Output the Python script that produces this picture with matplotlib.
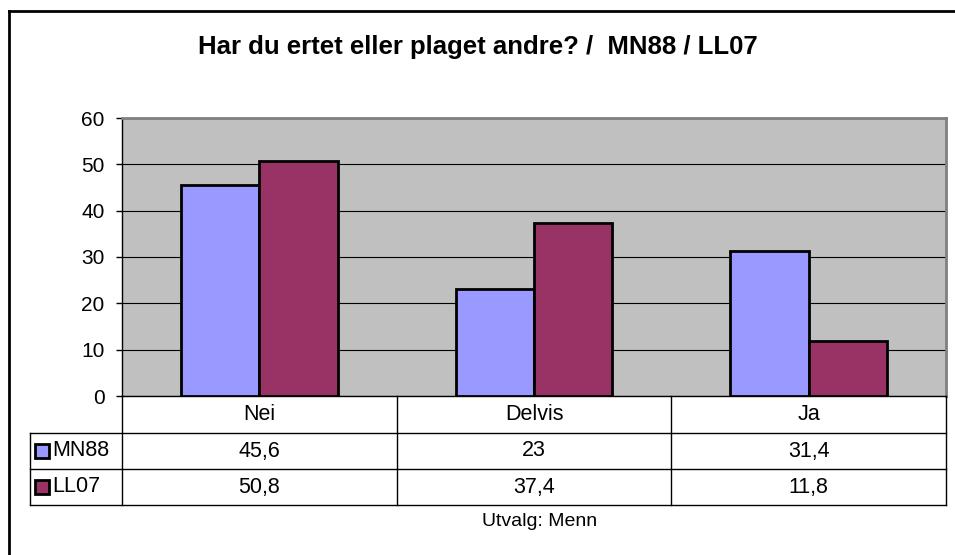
import matplotlib
matplotlib.use("Agg")
import matplotlib.pyplot as plt
from matplotlib.patches import Rectangle
from matplotlib.lines import Line2D

categories = ["Nei", "Delvis", "Ja"]
series_names = ["MN88", "LL07"]
mn88 = [45.6, 23, 31.4]
ll07 = [50.8, 37.4, 11.8]
mn88_labels = ["45,6", "23", "31,4"]
ll07_labels = ["50,8", "37,4", "11,8"]
yticks = [0, 10, 20, 30, 40, 50, 60]
colors = ["#9999FF", "#993366"]
title = "Har du ertet eller plaget andre? /  MN88 / LL07"
footer = "Utvalg: Menn"

plt.rcParams['font.family'] = ['Liberation Sans', 'DejaVu Sans']

W, H = 955, 555
fig = plt.figure(figsize=(W / 100, H / 100), dpi=100)

def fx(px):
    return px / W

def fy(py):
    return 1 - py / H

# outer border (only top and left visible)
fig.add_artist(Line2D([fx(8.5), fx(8.5)], [fy(10.5), fy(560)], color="black", lw=2, transform=fig.transFigure))
fig.add_artist(Line2D([fx(8.5), fx(960)], [fy(10.5), fy(10.5)], color="black", lw=2, transform=fig.transFigure))

L, R, T, B = 122, 946, 118, 396
ax = fig.add_axes([fx(L), fy(B), fx(R - L), (B - T) / H])
ax.set_facecolor("#C0C0C0")
n = len(categories)
bw = 0.285
xs = list(range(n))
ax.bar([x - bw / 2 for x in xs], mn88, width=bw, color=colors[0], edgecolor="black", linewidth=2, zorder=3)
ax.bar([x + bw / 2 for x in xs], ll07, width=bw, color=colors[1], edgecolor="black", linewidth=2, zorder=3)
ax.set_xlim(-0.5, n - 0.5)
ax.set_ylim(0, 60)
ax.set_yticks(yticks)
ax.set_yticklabels([str(t) for t in yticks], fontsize=15)
ax.yaxis.grid(True, color="black", lw=0.8, zorder=0)
ax.set_xticks([])
ax.tick_params(axis="y", length=4.5, width=1, color="black", pad=8)
for s in ["top", "right"]:
    ax.spines[s].set_color("#808080")
    ax.spines[s].set_linewidth(2)
ax.spines["left"].set_color("black")
ax.spines["bottom"].set_color("black")
ax.spines["left"].set_linewidth(1)
ax.spines["bottom"].set_linewidth(1)

# title
fig.text(fx(478), fy(47), title, ha="center", va="center", fontsize=18.5, fontweight="bold")

# data table
col_edges = [L + (R - L) * i / n for i in range(n + 1)]
row_edges = [396, 433, 469, 505]
tleft = 30
lc = "black"
lw = 1
def hline(y, x0, x1):
    fig.add_artist(Line2D([fx(x0), fx(x1)], [fy(y), fy(y)], color=lc, lw=lw, transform=fig.transFigure))
def vline(x, y0, y1):
    fig.add_artist(Line2D([fx(x), fx(x)], [fy(y0), fy(y1)], color=lc, lw=lw, transform=fig.transFigure))

hline(row_edges[1], tleft, R)
hline(row_edges[2], tleft, R)
hline(row_edges[3], tleft, R)
for x in col_edges:
    vline(x, row_edges[0], row_edges[3])
vline(tleft, row_edges[1], row_edges[3])

fs = 15.5
for i, c in enumerate(categories):
    cx = (col_edges[i] + col_edges[i + 1]) / 2
    fig.text(fx(cx), fy((row_edges[0] + row_edges[1]) / 2), c, ha="center", va="center", fontsize=fs)
    fig.text(fx(cx), fy((row_edges[1] + row_edges[2]) / 2), mn88_labels[i], ha="center", va="center", fontsize=fs)
    fig.text(fx(cx), fy((row_edges[2] + row_edges[3]) / 2), ll07_labels[i], ha="center", va="center", fontsize=fs)

for j, (name, col) in enumerate(zip(series_names, colors)):
    yc = (row_edges[1 + j] + row_edges[2 + j]) / 2
    fig.add_artist(Rectangle((fx(34.5), fy(yc + 7)), fx(14), 14 / H, facecolor=col, edgecolor="black", lw=2, transform=fig.transFigure))
    fig.text(fx(52), fy(yc), name, ha="left", va="center", fontsize=fs)

fig.text(fx(540), fy(522), footer, ha="center", va="center", fontsize=14)

fig.savefig("out.png", dpi=100)
